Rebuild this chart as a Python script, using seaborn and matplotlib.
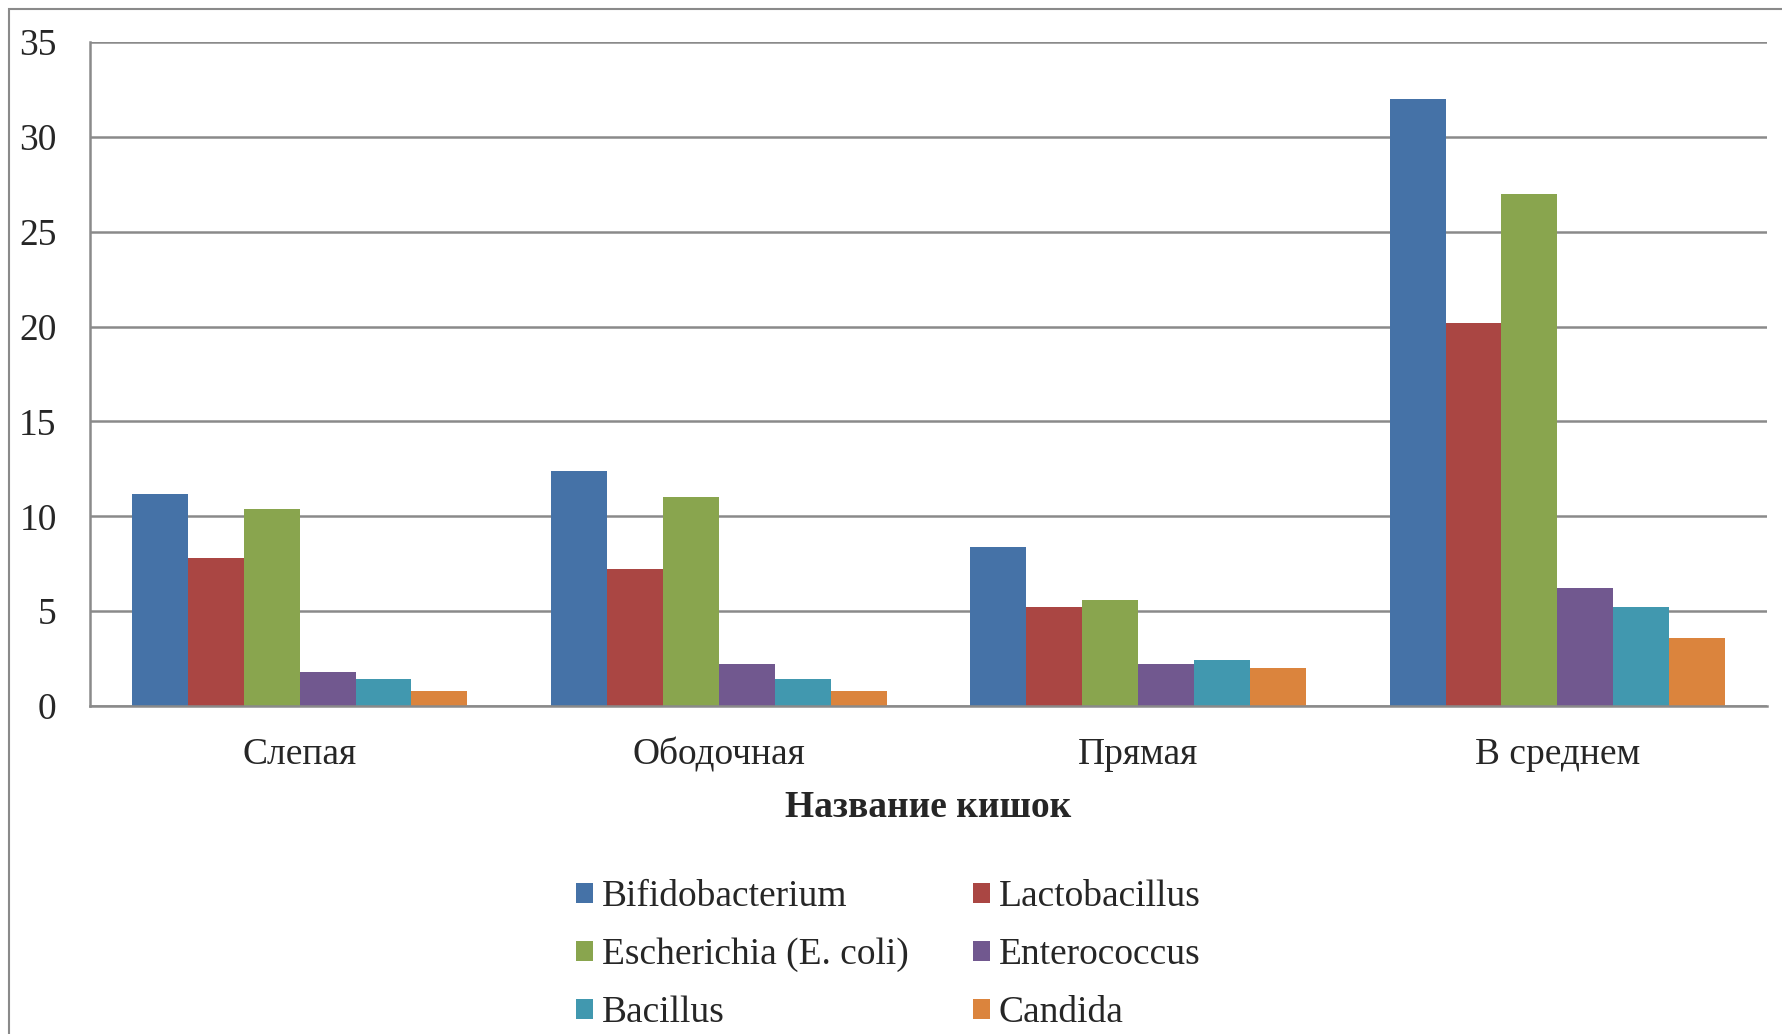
import matplotlib
matplotlib.use("Agg")
import matplotlib.pyplot as plt
import pandas as pd
import seaborn as sns
from matplotlib.patches import Rectangle

# data
categories = ["Слепая", "Ободочная", "Прямая", "В среднем"]
organisms = ["Bifidobacterium", "Lactobacillus", "Escherichia (E. coli)",
             "Enterococcus", "Bacillus", "Candida"]
bifido = [11.2, 12.4, 8.4, 32.0]
lacto = [7.8, 7.2, 5.2, 20.2]
escher = [10.4, 11.0, 5.6, 27.0]
entero = [1.8, 2.2, 2.2, 6.2]
bacillus = [1.4, 1.4, 2.4, 5.2]
candida = [0.8, 0.8, 2.0, 3.6]
y_ticks = [0, 5, 10, 15, 20, 25, 30, 35]

colors = ["#4572A7", "#AA4643", "#89A54E", "#71588F", "#4198AF", "#DB843D"]

series = [bifido, lacto, escher, entero, bacillus, candida]
rows = []
for org, vals in zip(organisms, series):
    for cat, v in zip(categories, vals):
        rows.append({"cat": cat, "org": org, "val": v})
df = pd.DataFrame(rows)

sns.set_style("white")
plt.rcParams["font.family"] = ["Liberation Serif", "DejaVu Serif"]

fig = plt.figure(figsize=(17.82, 10.34), dpi=100)
ax = fig.add_axes([0.0505, 0.3172, 0.9411, 0.6422])

sns.barplot(data=df, x="cat", y="val", hue="org", palette=colors,
            width=0.8, saturation=1, gap=0, edgecolor="none", ax=ax)

ax.set_xlim(-0.5, 3.5)
ax.set_ylim(0, 35)
ax.set_yticks(y_ticks)
ax.set_yticklabels([str(t) for t in y_ticks])
ax.yaxis.grid(True, color="#8a8a8a", linewidth=1.8)
ax.set_axisbelow(True)
for s in ["top", "right"]:
    ax.spines[s].set_visible(False)
for s in ["left", "bottom"]:
    ax.spines[s].set_color("#8a8a8a")
    ax.spines[s].set_linewidth(1.8)
ax.tick_params(axis="y", length=0, pad=24, labelsize=27)
ax.tick_params(axis="x", length=0, pad=23, labelsize=27)
ax.set_ylabel("")
ax.set_xlabel("Название кишок", fontsize=27, fontweight="bold", labelpad=12)

handles, labels = ax.get_legend_handles_labels()
ax.get_legend().remove()
order = [0, 2, 4, 1, 3, 5]
fig.legend([handles[i] for i in order], [labels[i] for i in order],
           ncol=2, loc="center", bbox_to_anchor=(0.4985, 0.0765),
           frameon=False, fontsize=27, handlelength=0.45, handleheight=0.45,
           handletextpad=0.25, columnspacing=1.7, labelspacing=0.63)

# outer chart frame
fig.patches.append(Rectangle((9 / 1782, -0.1), 1.2, 1 - 9 / 1034 + 0.1,
                             transform=fig.transFigure, fill=False,
                             edgecolor="#8a8a8a", linewidth=1.5))

fig.savefig("out.png", dpi=100)
